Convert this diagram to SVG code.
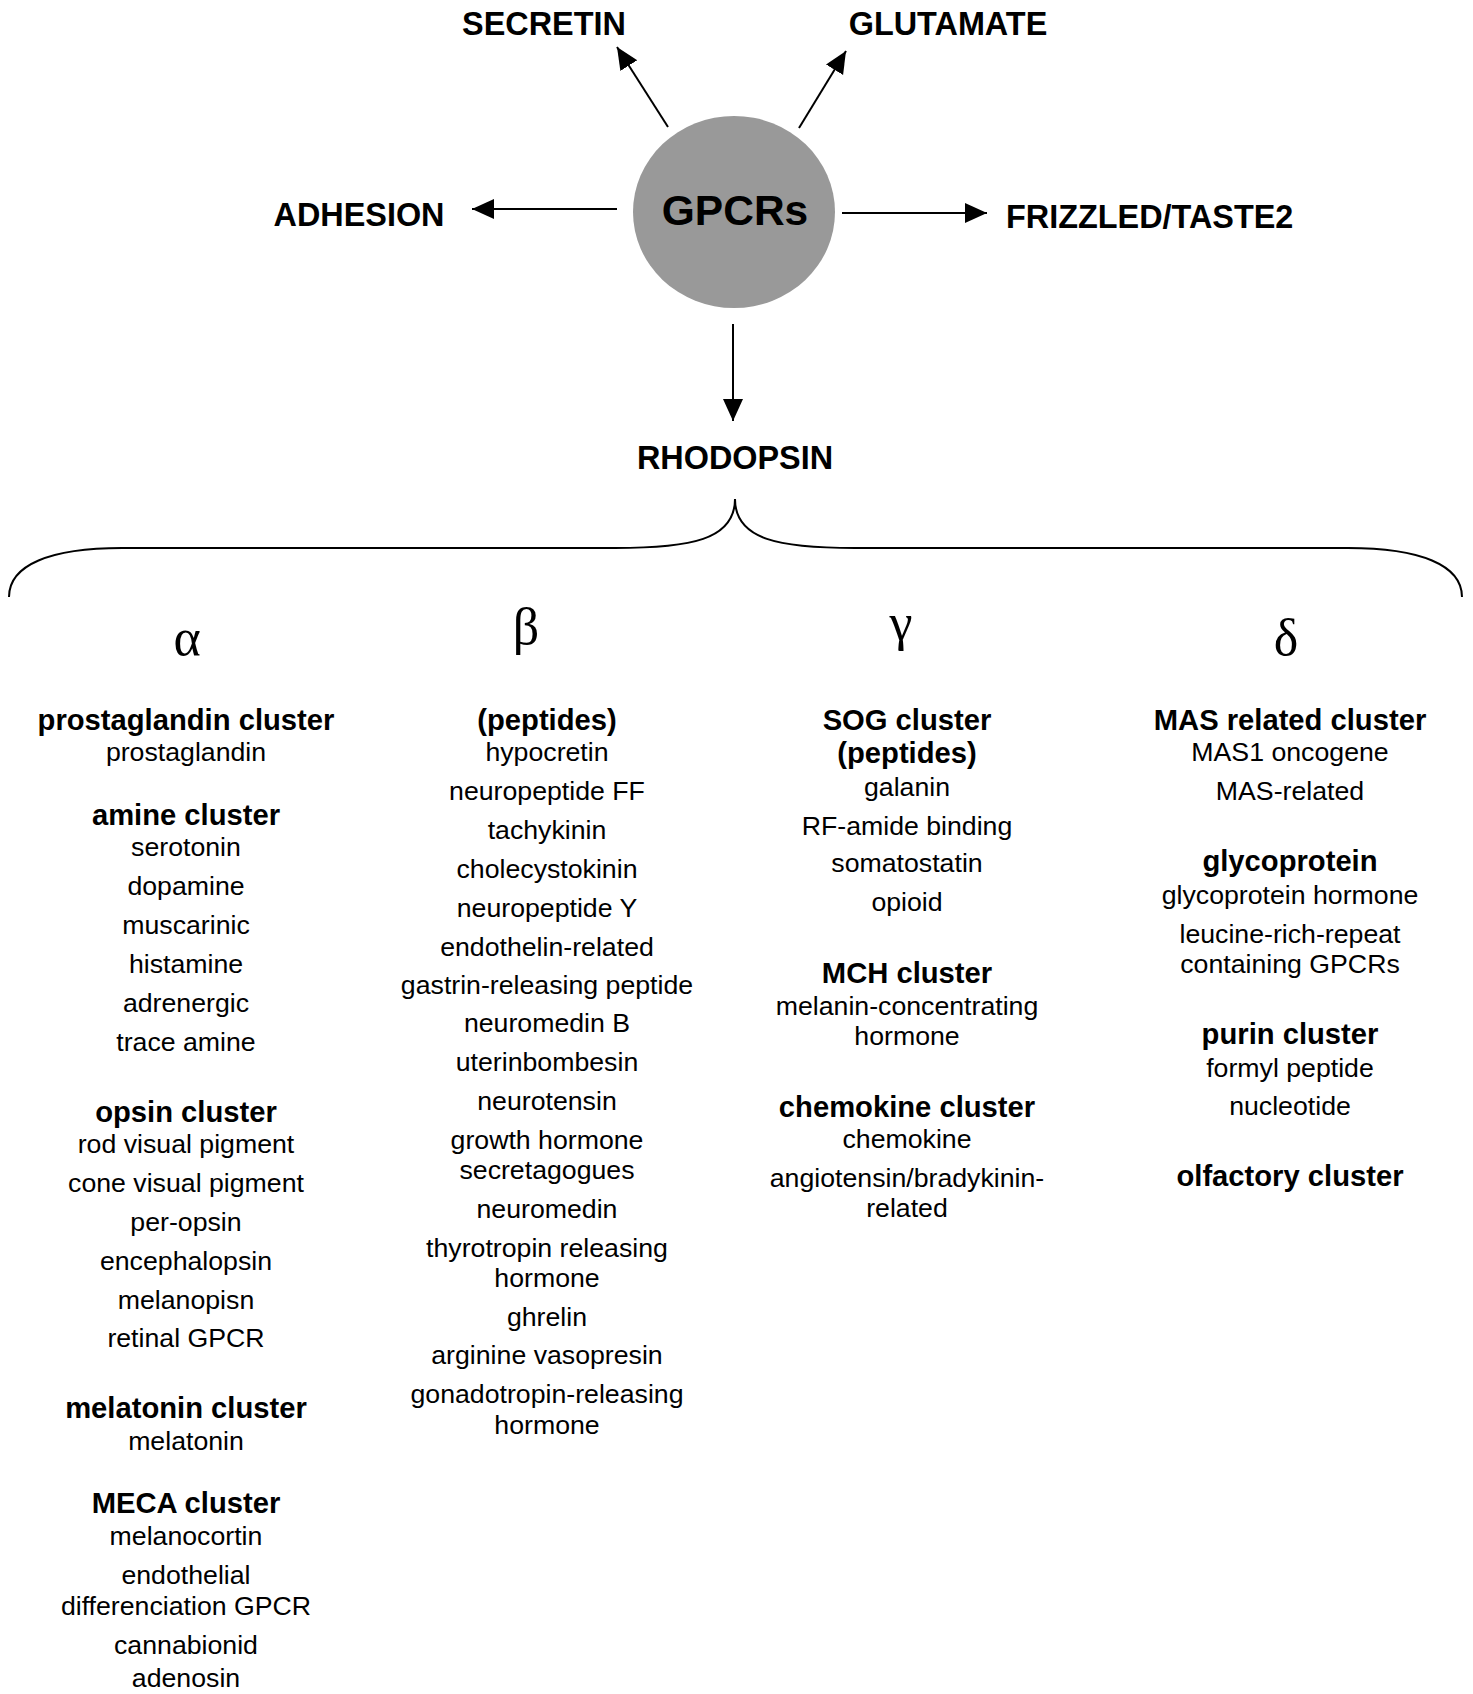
<svg xmlns="http://www.w3.org/2000/svg" width="1473" height="1694" viewBox="0 0 1473 1694">
<style>
text { font-family: "Liberation Sans", Arial, sans-serif; fill: #000; text-anchor: middle; }
.top { font-weight: bold; font-size: 32.4px; }
.h { font-weight: bold; font-size: 29.2px; }
.r { font-size: 26.7px; }
.greek { font-family: "Liberation Serif", "Times New Roman", serif; font-size: 52px; }
.conn { stroke: #000; stroke-width: 2; fill: none; }
</style>
<defs>
<marker id="arr" markerUnits="userSpaceOnUse" markerWidth="24" markerHeight="22" refX="22" refY="10" orient="auto">
<path d="M0,0 L22,10 L0,20 Z" fill="#000"/>
</marker>
</defs>
<rect width="1473" height="1694" fill="#fff"/>

<g id="connectors">
<line class="conn" x1="668" y1="127" x2="617" y2="47" marker-end="url(#arr)"/>
<line class="conn" x1="799" y1="128" x2="846" y2="51" marker-end="url(#arr)"/>
<line class="conn" x1="617" y1="209" x2="472" y2="209" marker-end="url(#arr)"/>
<line class="conn" x1="842" y1="213" x2="987" y2="213" marker-end="url(#arr)"/>
<line class="conn" x1="733" y1="324" x2="733" y2="421" marker-end="url(#arr)"/>
<path class="conn" d="M9,597 C9,565 50,548 122,548 L615,548 C690,548 735,540 735,499 C735,540 780,548 855,548 L1348,548 C1420,548 1462,565 1462,597"/>
</g>

<g id="gpcrs">
<ellipse cx="734" cy="212" rx="101" ry="96" fill="#999999"/>
<text x="735" y="225" style="font-weight:bold;font-size:42.5px">GPCRs</text>
</g>
<g id="secretin"><text class="top" x="544" y="35">SECRETIN</text></g>
<g id="glutamate"><text class="top" x="948" y="35">GLUTAMATE</text></g>
<g id="adhesion"><text class="top" x="359" y="226">ADHESION</text></g>
<g id="frizzled"><text class="top" x="1006" y="228" style="text-anchor:start">FRIZZLED/TASTE2</text></g>
<g id="rhodopsin"><text class="top" x="735" y="469">RHODOPSIN</text></g>

<g id="alpha">
<text class="greek" x="187" y="655">α</text>
<text class="h" x="186" y="730">prostaglandin cluster</text>
<text class="r" x="186" y="761">prostaglandin</text>
<text class="h" x="186" y="825">amine cluster</text>
<text class="r" x="186" y="856">serotonin</text>
<text class="r" x="186" y="895">dopamine</text>
<text class="r" x="186" y="934">muscarinic</text>
<text class="r" x="186" y="973">histamine</text>
<text class="r" x="186" y="1012">adrenergic</text>
<text class="r" x="186" y="1051">trace amine</text>
<text class="h" x="186" y="1122">opsin cluster</text>
<text class="r" x="186" y="1153">rod visual pigment</text>
<text class="r" x="186" y="1192">cone visual pigment</text>
<text class="r" x="186" y="1231">per-opsin</text>
<text class="r" x="186" y="1270">encephalopsin</text>
<text class="r" x="186" y="1309">melanopisn</text>
<text class="r" x="186" y="1347">retinal GPCR</text>
<text class="h" x="186" y="1418">melatonin cluster</text>
<text class="r" x="186" y="1450">melatonin</text>
<text class="h" x="186" y="1513">MECA cluster</text>
<text class="r" x="186" y="1545">melanocortin</text>
<text class="r" x="186" y="1584">endothelial</text>
<text class="r" x="186" y="1615">differenciation GPCR</text>
<text class="r" x="186" y="1654">cannabionid</text>
<text class="r" x="186" y="1687">adenosin</text>
</g>

<g id="beta">
<text class="greek" x="526" y="644">β</text>
<text class="h" x="547" y="730">(peptides)</text>
<text class="r" x="547" y="761">hypocretin</text>
<text class="r" x="547" y="800">neuropeptide FF</text>
<text class="r" x="547" y="839">tachykinin</text>
<text class="r" x="547" y="878">cholecystokinin</text>
<text class="r" x="547" y="917">neuropeptide Y</text>
<text class="r" x="547" y="956">endothelin-related</text>
<text class="r" x="547" y="994">gastrin-releasing peptide</text>
<text class="r" x="547" y="1032">neuromedin B</text>
<text class="r" x="547" y="1071">uterinbombesin</text>
<text class="r" x="547" y="1110">neurotensin</text>
<text class="r" x="547" y="1149">growth hormone</text>
<text class="r" x="547" y="1179">secretagogues</text>
<text class="r" x="547" y="1218">neuromedin</text>
<text class="r" x="547" y="1257">thyrotropin releasing</text>
<text class="r" x="547" y="1287">hormone</text>
<text class="r" x="547" y="1326">ghrelin</text>
<text class="r" x="547" y="1364">arginine vasopresin</text>
<text class="r" x="547" y="1403">gonadotropin-releasing</text>
<text class="r" x="547" y="1434">hormone</text>
</g>

<g id="gamma">
<text class="greek" x="901" y="640">γ</text>
<text class="h" x="907" y="730">SOG cluster</text>
<text class="h" x="907" y="763">(peptides)</text>
<text class="r" x="907" y="796">galanin</text>
<text class="r" x="907" y="835">RF-amide binding</text>
<text class="r" x="907" y="872">somatostatin</text>
<text class="r" x="907" y="911">opioid</text>
<text class="h" x="907" y="983">MCH cluster</text>
<text class="r" x="907" y="1015">melanin-concentrating</text>
<text class="r" x="907" y="1045">hormone</text>
<text class="h" x="907" y="1117">chemokine cluster</text>
<text class="r" x="907" y="1148">chemokine</text>
<text class="r" x="907" y="1187">angiotensin/bradykinin-</text>
<text class="r" x="907" y="1217">related</text>
</g>

<g id="delta">
<text class="greek" x="1286" y="655">δ</text>
<text class="h" x="1290" y="730">MAS related cluster</text>
<text class="r" x="1290" y="761">MAS1 oncogene</text>
<text class="r" x="1290" y="800">MAS-related</text>
<text class="h" x="1290" y="871">glycoprotein</text>
<text class="r" x="1290" y="904">glycoprotein hormone</text>
<text class="r" x="1290" y="943">leucine-rich-repeat</text>
<text class="r" x="1290" y="973">containing GPCRs</text>
<text class="h" x="1290" y="1044">purin cluster</text>
<text class="r" x="1290" y="1077">formyl peptide</text>
<text class="r" x="1290" y="1115">nucleotide</text>
<text class="h" x="1290" y="1186">olfactory cluster</text>
</g>
</svg>
